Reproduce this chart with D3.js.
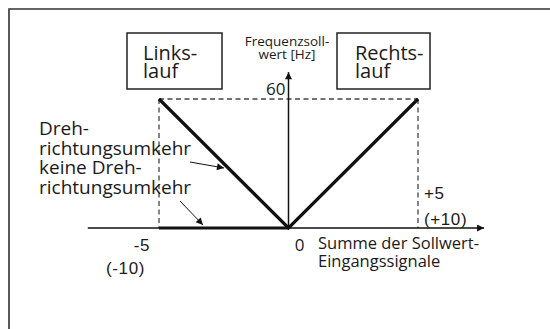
<!DOCTYPE html>
<html>
<head>
<meta charset="utf-8">
<script src="https://cdn.jsdelivr.net/npm/d3@7"></script>
<style>
  html, body { margin: 0; padding: 0; background: #fff; }
  #chart { width: 550px; height: 329px; }
  .label { font-family: "Open Sans", sans-serif; fill: #1a1a1a; }
  .num { font-family: "Liberation Sans", Arial, sans-serif; fill: #1a1a1a; }
</style>
</head>
<body>
<div id="chart"></div>
<script>
// Frequency setpoint vs. sum of setpoint inputs
(function () {
  ///////////////////////////////////////////////////////////// ! Data
  const xDomain = [-5, 5];
  const yDomain = [0, 60];
  const reversalX = [-5, 0, 5];
  const reversalY = [60, 0, 60];
  const noReversalX = [-5, 0];
  const noReversalY = [0, 0];
  const guideX = [-5, 5];
  const guideY = 60;
  const axisExtentX = [-7.75, 7.55];
  const axisTopY = 72.5;

  ///////////////////////////////////////////////////////////// ! Setup
  const width = 550;
  const height = 329;

  const svg = d3
    .select("#chart")
    .append("svg")
    .attr("width", width)
    .attr("height", height);

  const defs = svg.append("defs");
  defs
    .append("marker")
    .attr("id", "tip")
    .attr("viewBox", "0 0 10 10")
    .attr("refX", 10)
    .attr("refY", 5)
    .attr("markerUnits", "userSpaceOnUse")
    .attr("markerWidth", 9)
    .attr("markerHeight", 7)
    .attr("orient", "auto")
    .append("path")
    .attr("d", "M0,0 L10,5 L0,10 Z")
    .attr("fill", "#111");

  // Frame (top and left only)
  svg
    .append("path")
    .attr("d", `M9,${height} L9,9 L${width},9`)
    .attr("fill", "none")
    .attr("stroke", "#333")
    .attr("stroke-width", 1.6);

  ///////////////////////////////////////////////////////////// ! Scales
  const x = d3.scaleLinear().domain(xDomain).range([159, 418]);
  const y = d3.scaleLinear().domain(yDomain).range([228, 99]);

  ///////////////////////////////////////////////////////////// ! Guides
  const dash = "5,3.5";
  guideX.forEach((v) => {
    svg
      .append("line")
      .attr("x1", x(v))
      .attr("x2", x(v))
      .attr("y1", y(guideY))
      .attr("y2", y(0))
      .attr("stroke", "#444")
      .attr("stroke-width", 1.3)
      .attr("stroke-dasharray", dash);
  });
  svg
    .append("line")
    .attr("x1", x(guideX[0]))
    .attr("x2", x(guideX[1]))
    .attr("y1", y(guideY))
    .attr("y2", y(guideY))
    .attr("stroke", "#444")
    .attr("stroke-width", 1.3)
    .attr("stroke-dasharray", dash);

  ///////////////////////////////////////////////////////////// ! Axes
  // X axis (thin) with arrow
  svg
    .append("line")
    .attr("x1", x(axisExtentX[0]))
    .attr("x2", x(axisExtentX[1]))
    .attr("y1", y(0))
    .attr("y2", y(0))
    .attr("stroke", "#111")
    .attr("stroke-width", 1.4)
    .attr("marker-end", "url(#tip)");

  // Y axis with arrow
  svg
    .append("line")
    .attr("x1", x(0))
    .attr("x2", x(0))
    .attr("y1", y(0))
    .attr("y2", y(axisTopY))
    .attr("stroke", "#111")
    .attr("stroke-width", 1.5)
    .attr("marker-end", "url(#tip)");

  ///////////////////////////////////////////////////////////// ! Characteristic lines
  const line = d3
    .line()
    .x((d) => x(d[0]))
    .y((d) => y(d[1]));

  svg
    .append("path")
    .datum(d3.zip(noReversalX, noReversalY))
    .attr("d", line)
    .attr("fill", "none")
    .attr("stroke", "#111")
    .attr("stroke-width", 3.2);

  svg
    .append("path")
    .datum(d3.zip(reversalX, reversalY))
    .attr("d", line)
    .attr("fill", "none")
    .attr("stroke", "#111")
    .attr("stroke-width", 3.2)
    .attr("stroke-linejoin", "miter");

  ///////////////////////////////////////////////////////////// ! Tick labels
  svg.append("text").attr("class", "num").attr("x", 150).attr("y", 251)
    .style("font-size", "17px").style("letter-spacing", "0.6px")
    .attr("text-anchor", "end").text("-5");
  svg.append("text").attr("class", "num").attr("x", 145).attr("y", 274)
    .style("font-size", "17px").style("letter-spacing", "0.6px")
    .attr("text-anchor", "end").text("(-10)");
  svg.append("text").attr("class", "num").attr("x", 424).attr("y", 199)
    .style("font-size", "17px").style("letter-spacing", "0.6px").text("+5");
  svg.append("text").attr("class", "num").attr("x", 424).attr("y", 225)
    .style("font-size", "17px").style("letter-spacing", "0.6px").text("(+10)");
  svg.append("text").attr("class", "label").attr("x", x(0) + 11).attr("y", 251)
    .style("font-size", "17px").attr("text-anchor", "middle").text("0");
  svg.append("text").attr("class", "label").attr("x", x(0) - 3).attr("y", y(60) - 4)
    .style("font-size", "17px").attr("text-anchor", "end").text("60");

  ///////////////////////////////////////////////////////////// ! Axis titles
  // One text element per line
  const multi = (lines, xPos, yPos, size, lh, anchor) => {
    lines.forEach((s, i) => {
      svg
        .append("text")
        .attr("class", "label")
        .attr("x", xPos)
        .attr("y", yPos + i * lh)
        .style("font-size", size + "px")
        .attr("text-anchor", anchor || "start")
        .text(s);
    });
  };

  multi(["Frequenzsoll-", "wert [Hz]"], 287, 46, 13.5, 12.5, "middle");
  multi(["Summe der Sollwert-", "Eingangssignale"], 318, 249, 16.5, 18);

  ///////////////////////////////////////////////////////////// ! Direction boxes
  [
    { x0: 127, x1: 222, tx: 143, lines: ["Links-", "lauf"] },
    { x0: 337, x1: 430, tx: 355, lines: ["Rechts-", "lauf"] },
  ].forEach((b) => {
    svg
      .append("rect")
      .attr("x", b.x0)
      .attr("y", 33)
      .attr("width", b.x1 - b.x0)
      .attr("height", 56)
      .attr("fill", "#fff")
      .attr("stroke", "#222")
      .attr("stroke-width", 1.5);
    multi(b.lines, b.tx, 60, 20, 18);
  });

  ///////////////////////////////////////////////////////////// ! Annotations
  multi(["Dreh-", "richtungsumkehr", "keine Dreh-", "richtungsumkehr"], 39, 135, 19, 19.5);

  [
    [190, 162, 224, 168],
    [180, 201, 203, 225],
  ].forEach((a) => {
    svg
      .append("line")
      .attr("x1", a[0])
      .attr("y1", a[1])
      .attr("x2", a[2])
      .attr("y2", a[3])
      .attr("stroke", "#111")
      .attr("stroke-width", 1)
      .attr("marker-end", "url(#tip)");
  });
})();
</script>
</body>
</html>
